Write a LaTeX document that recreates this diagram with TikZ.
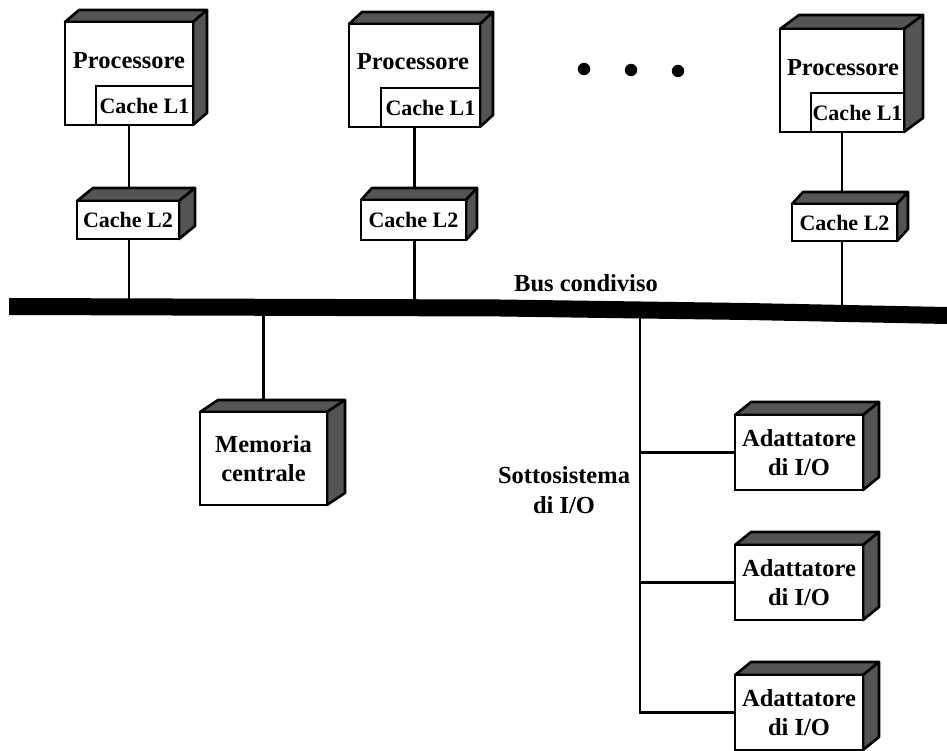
\documentclass[tikz,border=0pt]{standalone}
\usepackage{fontspec}
\setmainfont{Liberation Serif}
\usetikzlibrary{calc}
\pgfdeclarelayer{wires}
\pgfsetlayers{wires,main}

\definecolor{facegray}{gray}{0.33}

\tikzset{
  frontface/.style={draw=black, fill=white, line width=2.6pt, outer sep=0pt,
    inner sep=0pt, anchor=north west, align=center,
    font=\fontsize{24.5}{29}\selectfont\bfseries},
  cachebox/.style={frontface, font=\fontsize{22}{26}\selectfont\bfseries},
  label/.style={inner sep=0pt, align=center, font=\fontsize{24.5}{30}\selectfont\bfseries},
  wire/.style={draw=black, line width=2.3pt},
  side/.style={fill=facegray, draw=black, line width=2.6pt, line join=round},
}

% top and right faces of a box, drawn behind the front face
\newcommand\boxfaces[3]{%
  \path[side] (#1.north west) -- ++(#2,-#3) -- ($(#1.north east)+(#2,-#3)$)
    -- (#1.north east) -- cycle;
  \path[side] (#1.north east) -- ++(#2,-#3) -- ($(#1.south east)+(#2,-#3)$)
    -- (#1.south east) -- cycle;
}

\begin{document}
\begin{tikzpicture}[x=1pt, y=-1pt]
\useasboundingbox (0,0) rectangle (947,751);

% ---------- processors with L1 caches ----------
\node[frontface, minimum width=128pt, minimum height=103pt] (p1) at (65,22) {};
\boxfaces{p1}{14}{12}
\node[frontface, minimum width=128pt, minimum height=103pt] (p1) at (65,22) {};
\node[cachebox, anchor=south east, minimum width=97pt, minimum height=39pt] (c1a) at (p1.south east) {Cache L1};
\node[label] (pl1) at (129,61) {Processore};

\node[frontface, minimum width=131pt, minimum height=103pt] (p2) at (349,24) {};
\boxfaces{p2}{13}{12}
\node[frontface, minimum width=131pt, minimum height=103pt] (p2) at (349,24) {};
\node[cachebox, anchor=south east, minimum width=99pt, minimum height=39pt] (c1b) at (p2.south east) {Cache L1};
\node[label] (pl2) at (413,62) {Processore};

\node[frontface, minimum width=124pt, minimum height=103pt] (p3) at (780,29) {};
\boxfaces{p3}{19}{14}
\node[frontface, minimum width=124pt, minimum height=103pt] (p3) at (780,29) {};
\node[cachebox, anchor=south east, minimum width=93pt, minimum height=39pt] (c1c) at (p3.south east) {Cache L1};
\node[label] (pl3) at (843,68) {Processore};

% ---------- L2 caches ----------
\node[cachebox, minimum width=102pt, minimum height=38pt] (l2a) at (77,201) {};
\boxfaces{l2a}{16}{13}
\node[cachebox, minimum width=102pt, minimum height=38pt] (l2a) at (77,201) {Cache L2};

\node[cachebox, minimum width=105pt, minimum height=40pt] (l2b) at (361,200) {};
\boxfaces{l2b}{11}{12}
\node[cachebox, minimum width=105pt, minimum height=40pt] (l2b) at (361,200) {Cache L2};

\node[cachebox, minimum width=105pt, minimum height=37pt] (l2c) at (792,204) {};
\boxfaces{l2c}{11}{12}
\node[cachebox, minimum width=105pt, minimum height=37pt] (l2c) at (792,204) {Cache L2};

% ---------- ellipsis between processors ----------
\fill (584,69) circle (6.2);
\fill (631,70) circle (6.2);
\fill (678,71) circle (6.2);

% ---------- main memory ----------
\node[frontface, minimum width=127pt, minimum height=93pt] (mem) at (200,412) {};
\boxfaces{mem}{18}{12}
\node[frontface, minimum width=127pt, minimum height=93pt] (mem) at (200,412) {Memoria\\centrale};

% ---------- I/O adapters ----------
\foreach \i/\yy in {1/415, 2/545, 3/675} {
  \node[frontface, minimum width=128pt, minimum height=75pt] (ad\i) at (735,\yy) {};
  \boxfaces{ad\i}{16}{13}
  \node[frontface, minimum width=128pt, minimum height=75pt] (ad\i) at (735,\yy) {Adattatore\\di I/O};
}

% ---------- bus ----------
\fill (9,298) -- (500,299.5) -- (747,303) -- (947,307) -- (947,324)
      -- (747,320) -- (500,316.5) -- (9,315) -- cycle;
\node[label] (buslbl) at (586,283) {Bus condiviso};
\coordinate (b1) at (p1.south |- 0,306);
\coordinate (b2) at (p2.south |- 0,308);
\coordinate (b3) at (p3.south |- 0,312);
\coordinate (bm) at (mem.north |- 0,307);
\coordinate (bio) at (640,310);

\node[label] (iolbl) at (564,490) {Sottosistema\\di I/O};

% ---------- connectors ----------
\begin{pgfonlayer}{wires}
  \draw[wire] (p1.south) -- (p1.south |- l2a.north);
  \draw[wire] (p2.south) -- (p2.south |- l2b.north);
  \draw[wire] (p3.south) -- (p3.south |- l2c.north);
  \draw[wire] (p1.south |- l2a.south) -- (b1);
  \draw[wire] (p2.south |- l2b.south) -- (b2);
  \draw[wire] (p3.south |- l2c.south) -- (b3);
  \draw[wire] (bm) -- (mem.north);
  \draw[wire] (bio) |- (ad3.west);
  \draw[wire] (ad1.west -| bio) -- (ad1.west);
  \draw[wire] (ad2.west -| bio) -- (ad2.west);
\end{pgfonlayer}
\end{tikzpicture}
\end{document}
